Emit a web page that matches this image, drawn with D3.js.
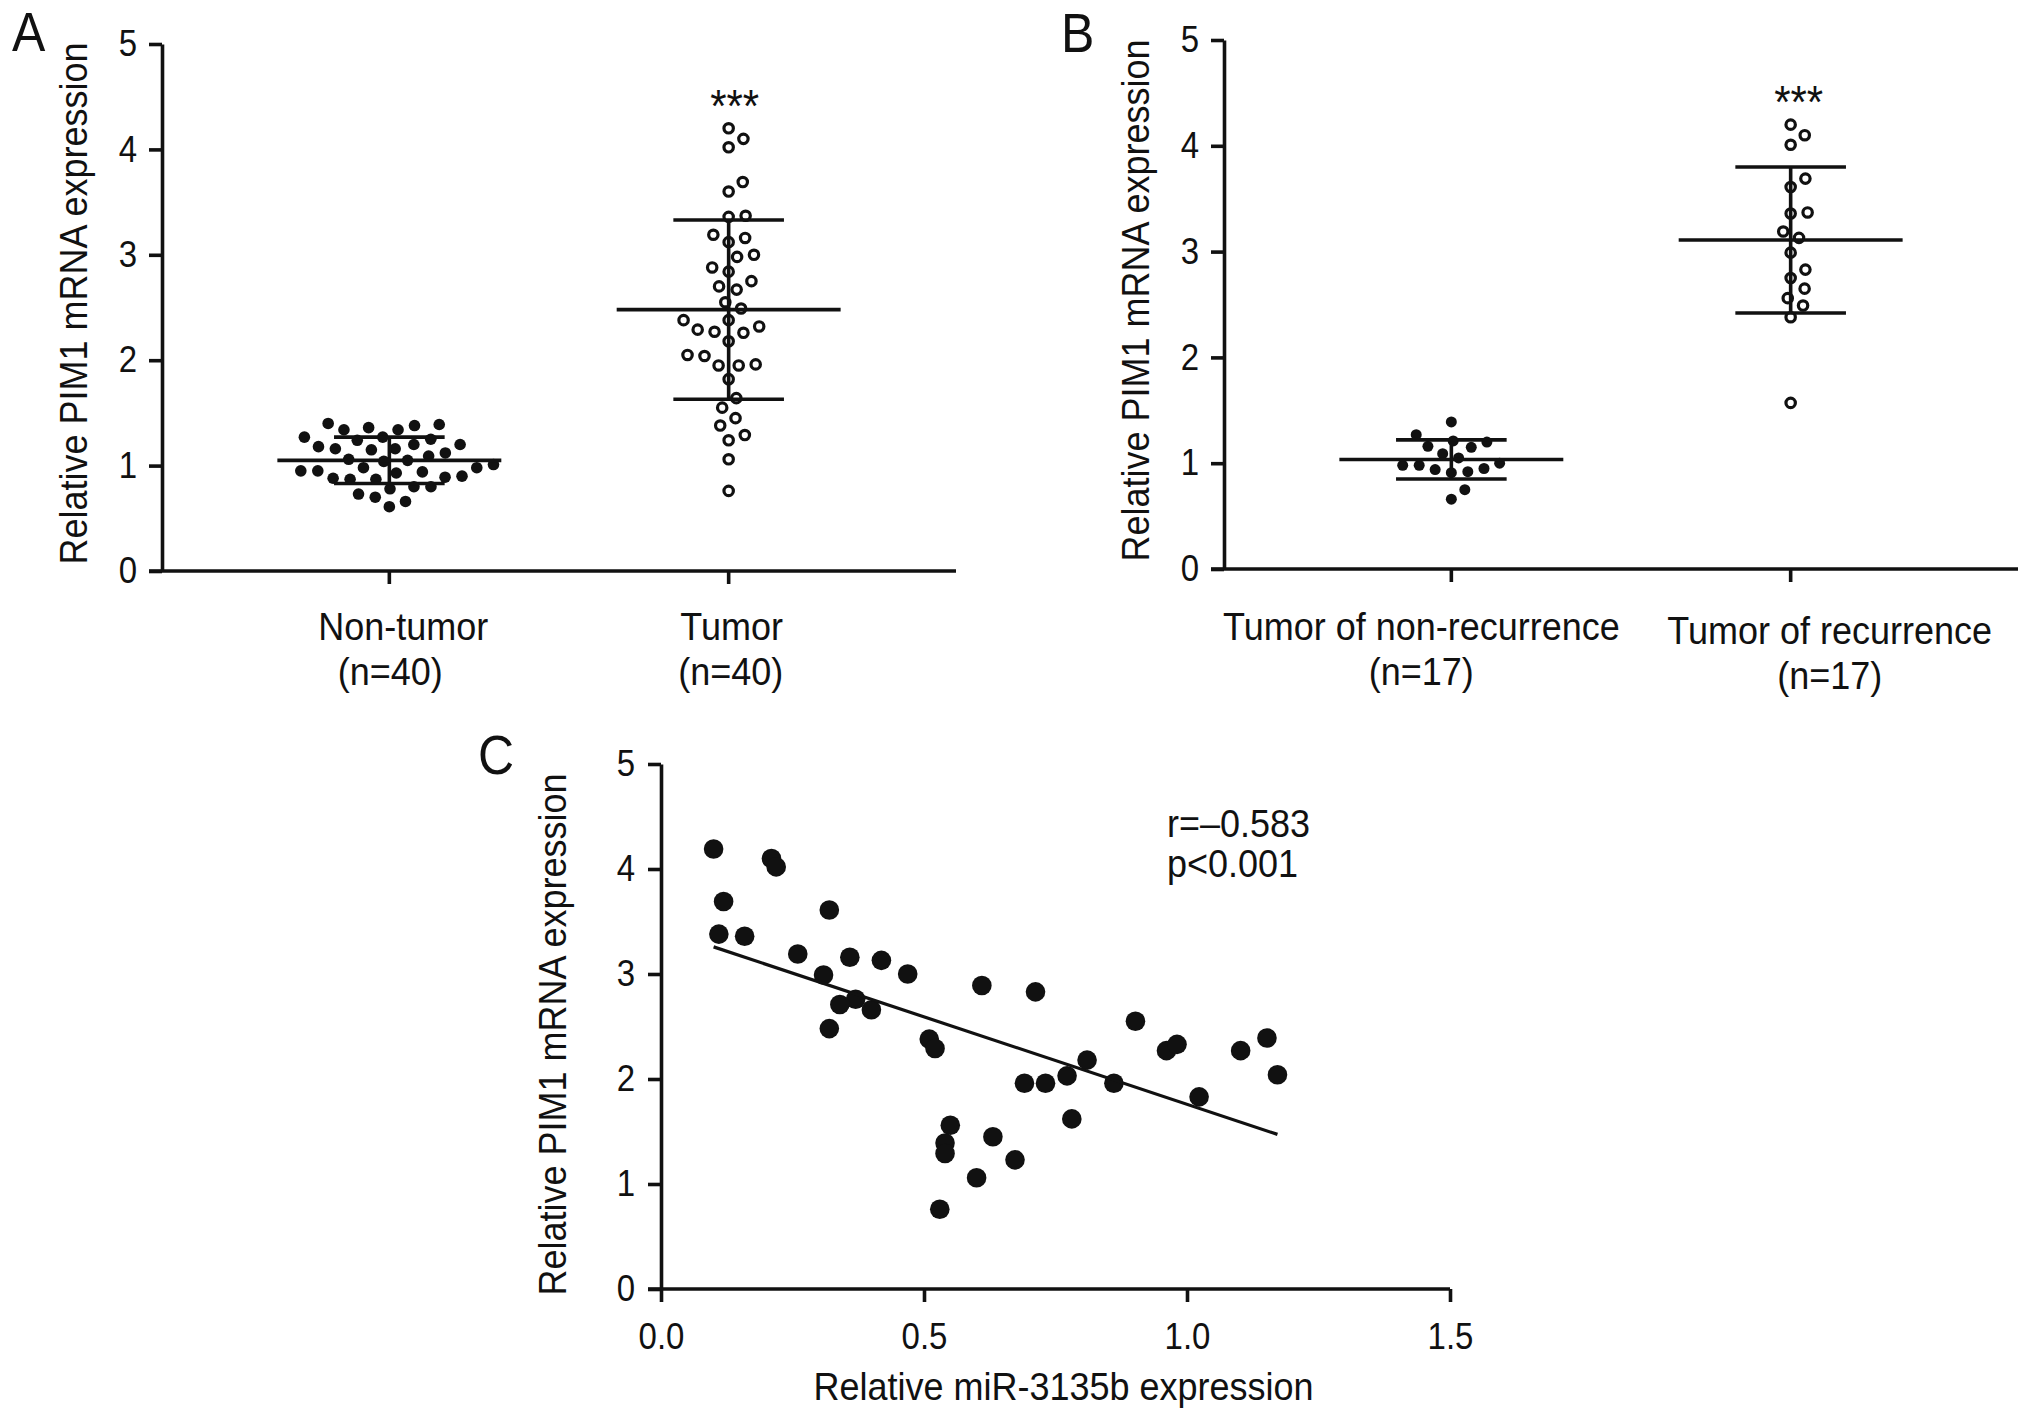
<!DOCTYPE html>
<html>
<head>
<meta charset="utf-8">
<script src="https://cdn.jsdelivr.net/npm/d3@7"></script>
<style>
  body { margin: 0; background: #fff; }
  text { font-family: "Liberation Sans", Arial, Helvetica, sans-serif; fill: #111; }
</style>
</head>
<body>
<div id="chart"></div>
<script>
// ---- data ----
const groupsA = ["Non-tumor", "Tumor"];
const countsA = ["(n=40)", "(n=40)"];
const nonTumor = [1.39, 1.36, 1.34, 1.34, 1.38, 1.40, 1.27, 1.25, 1.24, 1.27,
  1.20, 1.18, 1.16, 1.15, 1.16, 1.20, 1.09, 1.05, 1.12, 1.06,
  1.04, 1.01, 0.98, 0.98, 0.95, 0.94, 0.90, 0.88, 0.87, 0.89,
  0.93, 0.95, 0.87, 0.80, 0.78, 0.80, 0.73, 0.70, 0.66, 0.61];
const tumor = [4.20, 4.10, 4.02, 3.69, 3.60, 3.37, 3.36, 3.16, 3.19, 3.12,
  3.00, 2.98, 2.84, 2.88, 2.75, 2.70, 2.67, 2.55, 2.49, 2.38,
  2.38, 2.32, 2.27, 2.26, 2.29, 2.18, 2.04, 2.05, 1.96, 1.95,
  1.95, 1.82, 1.64, 1.55, 1.45, 1.38, 1.29, 1.24, 1.06, 0.76];
const meanA = [1.05, 2.48];
const sdA = [0.22, 0.85];

const groupsB = ["Tumor of non-recurrence", "Tumor of recurrence"];
const countsB = ["(n=17)", "(n=17)"];
const nonRecurrence = [1.39, 1.21, 1.16, 1.27, 1.15, 1.20, 1.09, 1.05, 0.98,
  0.95, 0.92, 0.91, 0.94, 0.98, 1.00, 0.75, 0.66];
const recurrence = [4.20, 4.10, 4.01, 3.69, 3.61, 3.36, 3.37, 3.19, 3.13,
  2.99, 2.83, 2.75, 2.65, 2.56, 2.49, 2.38, 1.57];
const meanB = [1.035, 3.11];
const sdB = [0.185, 0.69];

const mirX = [0.100, 0.210, 0.219, 0.119, 0.320, 0.110, 0.159, 0.260, 0.359, 0.419,
  0.309, 0.469, 0.610, 0.712, 0.370, 0.340, 0.400, 0.320, 0.510, 0.521,
  0.810, 0.691, 0.731, 0.772, 0.781, 0.550, 0.540, 0.540, 0.631, 0.673,
  0.600, 0.530, 0.902, 0.961, 0.981, 0.861, 1.023, 1.102, 1.152, 1.172];
const pimY = [4.19, 4.10, 4.02, 3.69, 3.61, 3.38, 3.36, 3.19, 3.16, 3.13,
  2.99, 3.00, 2.89, 2.83, 2.76, 2.71, 2.66, 2.48, 2.38, 2.29,
  2.18, 1.96, 1.96, 2.03, 1.62, 1.56, 1.39, 1.29, 1.45, 1.23,
  1.06, 0.76, 2.55, 2.27, 2.33, 1.96, 1.83, 2.27, 2.39, 2.04];
const statLines = ["r=\u20130.583", "p<0.001"];

const yTicks = [0, 1, 2, 3, 4, 5];
const xTicksC = [0, 0.5, 1.0, 1.5];
const yTitle = "Relative PIM1 mRNA expression";
const xTitleC = "Relative miR-3135b expression";

// ---- drawing ----
const W = 2031, H = 1419;
const S = 1.1;          // glyphs in the figure are a bit taller than Arial
const AX = 3.6;         // axis / line weight
const TICK = 13;

const svg = d3.select("#chart").append("svg")
  .attr("width", W).attr("height", H);

function txt(g, x, y, str, size, anchor, rotate) {
  const t = g.append("text")
    .attr("transform", "translate(" + x + "," + y + ")" + (rotate ? " rotate(-90)" : "") + " scale(1," + S + ")")
    .attr("font-size", size)
    .attr("text-anchor", anchor)
    .text(str);
  return t;
}

function styleAxis(sel) {
  sel.attr("font-size", 33);
  sel.selectAll("path, line").attr("stroke", "#111").attr("stroke-width", AX);
  sel.selectAll("text").attr("transform", "scale(1," + S + ")");
}

// simple beeswarm: place sorted points at the smallest offset that does not collide
function swarm(vals, y, D) {
  const pts = vals.map(v => ({ v: v, py: y(v), dx: 0 }))
    .sort((a, b) => d3.ascending(a.v, b.v));
  const placed = [];
  pts.forEach(p => {
    const cands = [0];
    placed.forEach(q => {
      const dy = Math.abs(q.py - p.py);
      if (dy < D) {
        const w = Math.sqrt(D * D - dy * dy);
        cands.push(q.dx + w, q.dx - w);
      }
    });
    cands.sort((a, b) => Math.abs(a) - Math.abs(b) || b - a);
    p.dx = cands.find(c => placed.every(q => (q.dx - c) ** 2 + (q.py - p.py) ** 2 >= D * D - 0.01));
    placed.push(p);
  });
  return pts;
}

function dotPanel(o) {
  const g = svg.append("g");
  const y = d3.scaleLinear().domain([0, 5]).range([o.y0, o.y5]);
  const x = d3.scalePoint().domain(o.groups).range([o.x0, o.xEnd]).padding(0.67);

  // points
  o.series.forEach((vals, i) => {
    const pts = swarm(vals, y, o.spacing[i]);
    const c = g.append("g").selectAll("circle").data(pts).enter().append("circle")
      .attr("cx", d => x(o.groups[i]) + d.dx)
      .attr("cy", d => d.py);
    if (o.open[i]) {
      c.attr("r", 4.7).attr("fill", "none").attr("stroke", "#111").attr("stroke-width", 3.2);
    } else {
      c.attr("r", o.dotR).attr("fill", "#111");
    }
  });

  // mean and SD
  const half = x.step() * 0.33, cap = x.step() * 0.163;
  o.groups.forEach((grp, i) => {
    const cx = x(grp), m = o.means[i], s = o.sds[i];
    const ln = (x1, y1, x2, y2) => g.append("line")
      .attr("x1", x1).attr("y1", y1).attr("x2", x2).attr("y2", y2)
      .attr("stroke", "#111").attr("stroke-width", AX);
    ln(cx, y(m - s), cx, y(m + s));
    ln(cx - half, y(m), cx + half, y(m));
    ln(cx - cap, y(m + s), cx + cap, y(m + s));
    ln(cx - cap, y(m - s), cx + cap, y(m - s));
  });

  // y axis
  g.append("g").attr("transform", "translate(" + o.x0 + ",0)")
    .call(d3.axisLeft(y).tickValues(yTicks).tickFormat(d3.format("d"))
      .tickSize(TICK).tickSizeOuter(0).tickPadding(12))
    .call(styleAxis);

  // x axis (GraphPad style, runs past the y axis)
  g.append("line")
    .attr("x1", o.x0 - TICK).attr("x2", o.xEnd).attr("y1", o.y0).attr("y2", o.y0)
    .attr("stroke", "#111").attr("stroke-width", AX);
  g.selectAll(".xt").data(o.groups).enter().append("line")
    .attr("x1", d => x(d)).attr("x2", d => x(d))
    .attr("y1", o.y0).attr("y2", o.y0 + TICK)
    .attr("stroke", "#111").attr("stroke-width", AX);

  // category labels
  o.groups.forEach((grp, i) => {
    txt(g, x(grp) + o.labelDx[i][0], o.labelY[0] + o.labelDy[i], grp, 36, "middle");
    txt(g, x(grp) + o.labelDx[i][1], o.labelY[1] + o.labelDy[i], o.counts[i], 36, "middle");
  });

  // significance stars
  txt(g, x(o.groups[1]) + o.starDx, o.starY, "***", 42, "middle");

  txt(g, o.ylabX, (o.y0 + o.y5) / 2 - 4, yTitle, 36, "middle", true);
  txt(g, o.letterX, o.letterY, o.letter, 50, "start");
}

dotPanel({
  x0: 162, xEnd: 956, y0: 571, y5: 44,
  groups: groupsA, counts: countsA, series: [nonTumor, tumor],
  open: [false, true], dotR: 5.8, spacing: [17, 17],
  means: meanA, sds: sdA,
  labelDx: [[14, 1], [3, 2]], labelY: [640, 685], labelDy: [0, 0],
  starDx: 6, starY: 122,
  ylabX: 87, letter: "A", letterX: 12, letterY: 51
});

dotPanel({
  x0: 1224, xEnd: 2018, y0: 569, y5: 40,
  groups: groupsB, counts: countsB, series: [nonRecurrence, recurrence],
  open: [false, true], dotR: 5.5, spacing: [16.5, 17],
  means: meanB, sds: sdB,
  labelDx: [[-30, -30], [39, 39]], labelY: [640, 685], labelDy: [0, 4],
  starDx: 8, starY: 118,
  ylabX: 1149, letter: "B", letterX: 1061, letterY: 52
});

// ---- panel C: correlation ----
(function () {
  const g = svg.append("g");
  const x0 = 661, x1 = 1450, y0 = 1289, y5 = 764;
  const x = d3.scaleLinear().domain([0, 1.5]).range([x0, x1]);
  const y = d3.scaleLinear().domain([0, 5]).range([y0, y5]);
  const pts = mirX.map((v, i) => ({ x: v, y: pimY[i] }));

  g.append("g").selectAll("circle").data(pts).enter().append("circle")
    .attr("cx", d => x(d.x)).attr("cy", d => y(d.y))
    .attr("r", 9.8).attr("fill", "#111");

  // least squares line across the x range of the data
  const mx = d3.mean(mirX), my = d3.mean(pimY);
  const sxy = d3.sum(pts, d => (d.x - mx) * (d.y - my));
  const sxx = d3.sum(pts, d => (d.x - mx) * (d.x - mx));
  const b = sxy / sxx, a = my - b * mx;
  const ext = d3.extent(mirX);
  g.append("path")
    .datum(ext.map(v => [v, a + b * v]))
    .attr("d", d3.line().x(d => x(d[0])).y(d => y(d[1])))
    .attr("stroke", "#111").attr("stroke-width", 3.2).attr("fill", "none");

  g.append("g").attr("transform", "translate(" + x0 + ",0)")
    .call(d3.axisLeft(y).tickValues(yTicks).tickFormat(d3.format("d"))
      .tickSize(TICK).tickSizeOuter(0).tickPadding(13))
    .call(styleAxis);

  const xa = g.append("g").attr("transform", "translate(0," + y0 + ")")
    .call(d3.axisBottom(x).tickValues(xTicksC).tickFormat(d3.format(".1f"))
      .tickSize(TICK).tickSizeOuter(0))
    .call(styleAxis);
  xa.select(".domain").remove();
  xa.selectAll("text").attr("dy", null).attr("y", 60 / S);
  g.append("line")
    .attr("x1", x0 - TICK).attr("x2", x1).attr("y1", y0).attr("y2", y0)
    .attr("stroke", "#111").attr("stroke-width", AX);

  statLines.forEach((s, i) => txt(g, 1167, 837 + i * 40, s, 36, "start"));

  txt(g, (x0 + x1) / 2 + 8, 1400, xTitleC, 36, "middle");
  txt(g, 566, (y0 + y5) / 2 + 8, yTitle, 36, "middle", true);
  txt(g, 478, 774, "C", 50, "start");
})();
</script>
</body>
</html>
